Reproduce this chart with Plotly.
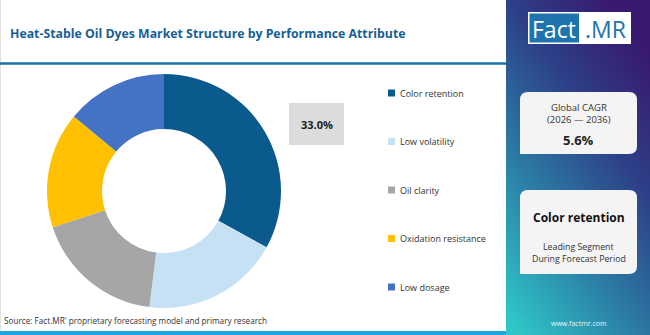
import base64
import plotly.graph_objects as go

categories = ["Color retention", "Low volatility", "Oil clarity", "Oxidation resistance", "Low dosage"]
shares = [33.0, 19.0, 18.0, 16.0, 14.0]
colors = ["#0b5a8e", "#c5e1f3", "#a6a6a6", "#ffc000", "#4472c4"]

title_text = "Heat-Stable Oil Dyes Market Structure by Performance Attribute"
source_text = "Source: Fact.MR' proprietary forecasting model and primary research"
cagr_label = "Global CAGR"
cagr_period = "(2026 \u2014 2036)"
cagr_value = "5.6%"
leading_segment = "Color retention"

W, H = 650, 335

def px(x):
    return x / W

def py(y):
    return 1 - y / H

fig = go.Figure()

cx, cy, r = 164, 191, 117
fig.add_trace(go.Pie(
    labels=categories, values=shares, hole=0.53, sort=False,
    direction="clockwise", rotation=0,
    marker=dict(colors=colors, line=dict(width=0)),
    textinfo="none", hoverinfo="label+percent",
    domain=dict(x=[px(cx - r), px(cx + r)], y=[py(cy + r), py(cy - r)]),
    showlegend=False,
))

shapes = []
annotations = []

# left area border
shapes.append(dict(type="line", xref="paper", yref="paper", x0=px(0.5), x1=px(0.5), y0=0, y1=1,
                   line=dict(color="#e2e2e2", width=1)))
# title underline
shapes.append(dict(type="line", xref="paper", yref="paper", x0=0, x1=px(506), y0=py(63.5), y1=py(63.5),
                   line=dict(color="#1f6fa8", width=2.5)))
# bottom strip
shapes.append(dict(type="rect", xref="paper", yref="paper", x0=0, x1=px(506), y0=0, y1=py(331),
                   fillcolor="#1ba6dc", line=dict(width=0)))

annotations.append(dict(text="<b>" + title_text + "</b>", x=px(8), y=py(33), xref="paper", yref="paper",
                        xanchor="left", yanchor="middle", showarrow=False,
                        font=dict(family="Open Sans", size=12.3, color="#175f97")))
annotations.append(dict(text=source_text, x=px(2), y=py(320), xref="paper", yref="paper",
                        xanchor="left", yanchor="middle", showarrow=False,
                        font=dict(family="Open Sans", size=8.2, color="#333333")))

# value callout box
shapes.append(dict(type="rect", xref="paper", yref="paper", x0=px(289), x1=px(344), y0=py(145), y1=py(103),
                   fillcolor="#dcdcdc", line=dict(width=0)))
annotations.append(dict(text="<b>%.1f%%</b>" % shares[0], x=px(316.5), y=py(124), xref="paper", yref="paper",
                        xanchor="center", yanchor="middle", showarrow=False,
                        font=dict(family="Open Sans", size=11, color="#222222")))

# custom legend
leg_y0, leg_dy = 93, 48.5
for i, (lab, col) in enumerate(zip(categories, colors)):
    yy = leg_y0 + i * leg_dy
    shapes.append(dict(type="rect", xref="paper", yref="paper", x0=px(388), x1=px(395), y0=py(yy + 3.5), y1=py(yy - 3.5),
                       fillcolor=col, line=dict(width=0)))
    annotations.append(dict(text=lab, x=px(398), y=py(yy), xref="paper", yref="paper",
                            xanchor="left", yanchor="middle", showarrow=False,
                            font=dict(family="Open Sans", size=9, color="#333333")))

# right panel gradient background
svg = ('<svg xmlns="http://www.w3.org/2000/svg" width="144" height="335" viewBox="0 0 144 335" preserveAspectRatio="none">'
       '<defs><linearGradient id="g" x1="0.1" y1="1" x2="0.7" y2="0">'
       '<stop offset="0" stop-color="#2fc6c7"/>'
       '<stop offset="0.35" stop-color="#2b7fa6"/>'
       '<stop offset="0.7" stop-color="#2d3f88"/>'
       '<stop offset="1" stop-color="#381a70"/>'
       '</linearGradient></defs><rect width="144" height="335" fill="url(#g)"/></svg>')
src = "data:image/svg+xml;base64," + base64.b64encode(svg.encode()).decode()
fig.add_layout_image(dict(source=src, xref="paper", yref="paper", x=px(506), y=1, sizex=px(650) - px(506),
                          sizey=1, xanchor="left", yanchor="top", sizing="stretch", layer="below"))

# logo
shapes.append(dict(type="rect", xref="paper", yref="paper", x0=px(528), x1=px(631), y0=py(44), y1=py(12),
                   fillcolor="#ffffff", line=dict(width=0)))
shapes.append(dict(type="rect", xref="paper", yref="paper", x0=px(529.5), x1=px(579), y0=py(42.5), y1=py(13.5),
                   fillcolor="#1f74ad", line=dict(width=0)))
annotations.append(dict(text="Fact", x=px(554), y=py(28.5), xref="paper", yref="paper",
                        xanchor="center", yanchor="middle", showarrow=False,
                        font=dict(family="Open Sans", size=23, color="#ffffff")))
annotations.append(dict(text=".MR", x=px(605), y=py(28.5), xref="paper", yref="paper",
                        xanchor="center", yanchor="middle", showarrow=False,
                        font=dict(family="Open Sans", size=23, color="#1f74ad")))


def rounded_box(x0, y0, x1, y1, rr):
    return (f"M {x0},{y0 + rr} Q {x0},{y0} {x0 + rr},{y0} L {x1 - rr},{y0} Q {x1},{y0} {x1},{y0 + rr} "
            f"L {x1},{y1 - rr} Q {x1},{y1} {x1 - rr},{y1} L {x0},{y1} Z")

for (bx0, by0, bx1, by1) in [(520, 92, 637, 154), (520, 190, 637, 274)]:
    shapes.append(dict(type="path", xref="x", yref="y", path=rounded_box(bx0, by0, bx1, by1, 8),
                       fillcolor="#f4f4f4", line=dict(width=0)))

def ann(text, x, y, size, color="#333333", bold=False):
    annotations.append(dict(text=("<b>%s</b>" % text) if bold else text, x=x, y=y, xref="x", yref="y",
                            xanchor="center", yanchor="middle", showarrow=False,
                            font=dict(family="Open Sans", size=size, color=color)))

ann(cagr_label, 578.5, 107, 9.5)
ann(cagr_period, 578.5, 119.5, 9.5)
ann(cagr_value, 578.5, 140, 13, "#222222", True)
ann(leading_segment, 578.5, 217, 12, "#111111", True)
ann("Leading Segment", 578.5, 246.5, 8.8)
ann("During Forecast Period", 578.5, 258.5, 8.8)
ann("www.factmr.com", 578.5, 323, 7, "#e8f4f8")

fig.update_layout(
    width=W, height=H, margin=dict(l=0, r=0, t=0, b=0),
    paper_bgcolor="#ffffff", plot_bgcolor="rgba(0,0,0,0)",
    xaxis=dict(range=[0, W], visible=False, fixedrange=True, domain=[0, 1]),
    yaxis=dict(range=[H, 0], visible=False, fixedrange=True, domain=[0, 1]),
    shapes=shapes, annotations=annotations,
)

fig.write_html("out.html")
